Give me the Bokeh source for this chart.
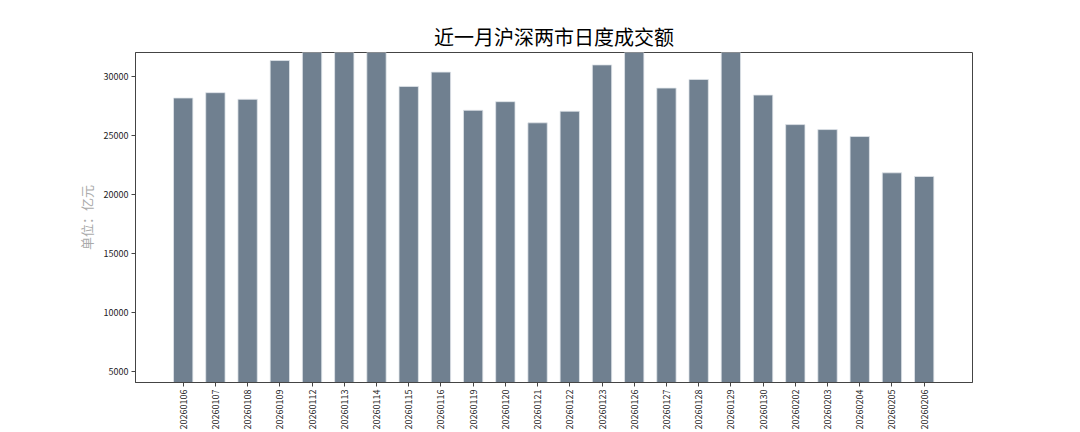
import math
from bokeh.plotting import figure
from bokeh.models import Range1d, FixedTicker, ColumnDataSource
from bokeh.embed import file_html
from bokeh.resources import INLINE

# daily turnover of Shanghai + Shenzhen markets (亿元)
dates = ["20260106", "20260107", "20260108", "20260109", "20260112", "20260113",
         "20260114", "20260115", "20260116", "20260119", "20260120", "20260121",
         "20260122", "20260123", "20260126", "20260127", "20260128", "20260129",
         "20260130", "20260202", "20260203", "20260204", "20260205", "20260206"]
turnover = [28150, 28600, 28040, 31320, 36500, 39000,
            35800, 29130, 30340, 27110, 27840, 26050,
            27030, 30950, 33000, 28990, 29720, 32500,
            28400, 25900, 25480, 24890, 21820, 21510]
yticks = [5000, 10000, 15000, 20000, 25000, 30000]

FONT = "Noto Sans CJK SC"

idx = list(range(len(dates)))
src = ColumnDataSource(dict(x=idx, top=turnover, label=dates))

p = figure(width=1072, height=432, output_backend="svg", toolbar_location=None,
           x_range=Range1d(-1.48, 24.5), y_range=Range1d(4080, 32000),
           min_border_left=135, min_border_right=100, min_border_top=52,
           min_border_bottom=48)

p.vbar(x="x", top="top", bottom=0, width=0.6, source=src,
       fill_color="#708090", line_color="#dfe4ea", line_width=0.8)

p.title.text = "近一月沪深两市日度成交额"
p.title.align = "center"
p.title.text_font = FONT
p.title.text_font_size = "20px"
p.title.text_font_style = "normal"
p.title.text_color = "#000000"
p.title.standoff = 4

p.xgrid.visible = False
p.ygrid.visible = False
p.outline_line_color = "#444444"
p.outline_line_width = 1

p.xaxis.ticker = FixedTicker(ticks=idx)
p.xaxis.major_label_overrides = {i: d for i, d in zip(idx, dates)}
p.xaxis.major_label_orientation = math.pi / 2
p.yaxis.ticker = FixedTicker(ticks=yticks)
p.yaxis.axis_label = "单位：亿元"
p.yaxis.axis_label_text_color = "#aaaaaa"
p.yaxis.axis_label_text_font = FONT
p.yaxis.axis_label_text_font_size = "13px"
p.yaxis.axis_label_text_font_style = "normal"

for ax in (p.xaxis, p.yaxis):
    ax.major_label_text_font = FONT
    ax.major_label_text_font_size = "9px"
    ax.major_label_text_color = "#222222"
    ax.axis_line_color = "#444444"
    ax.major_tick_line_color = "#444444"
    ax.major_tick_in = 0
    ax.major_tick_out = 4
    ax.minor_tick_line_color = None
    ax.major_label_standoff = 3

open("out.html", "w").write(file_html(p, INLINE))
